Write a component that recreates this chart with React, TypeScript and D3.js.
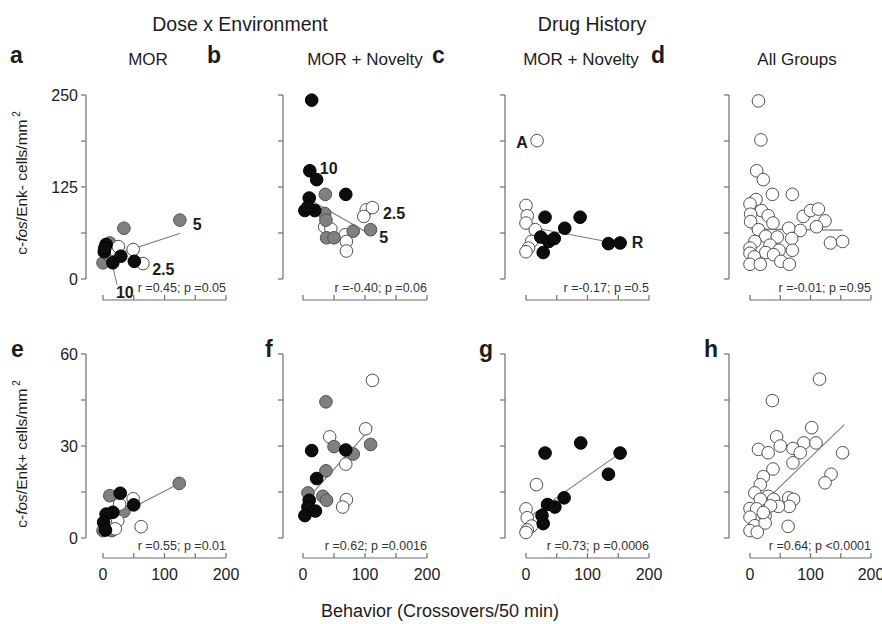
import React from 'react';
import * as d3 from 'd3';

// [x = crossovers, y = cells/mm2, group: 0 open, 1 grey, 2 black]
type Pt = [number, number, number];

const groupTitles = ['Dose x Environment', 'Drug History'];
const subtitles = ['MOR', 'MOR + Novelty', 'MOR + Novelty', 'All Groups'];
const panelLetters = ['a', 'b', 'c', 'd', 'e', 'f', 'g', 'h'];
const statTexts = [
  'r =0.45; p =0.05', 'r =-0.40; p =0.06', 'r =-0.17; p =0.5', 'r =-0.01; p =0.95',
  'r =0.55; p =0.01', 'r =0.62; p =0.0016', 'r =0.73; p =0.0006', 'r =0.64; p <0.0001',
];
const xTicks = [0, 50, 100, 150, 200];
const xTickLabels = [0, 100, 200];
const yTicksTop = [0, 62.5, 125, 187.5, 250];
const yTickLabelsTop = [0, 125, 250];
const yTicksBottom = [0, 15, 30, 45, 60];
const yTickLabelsBottom = [0, 30, 60];

const aPoints: Pt[] = [
  [34, 69, 1], [125, 80, 1], [11, 49, 1], [0, 22, 1], [8, 33, 1],
  [18, 40, 0], [25, 44, 0], [49, 40, 0], [65, 21, 0],
  [5, 47, 2], [2, 37, 2], [3, 42, 2], [16, 22, 2], [29, 31, 2], [51, 24, 2],
];
const bPoints: Pt[] = [
  [35, 71, 0], [45, 68, 0], [68, 60, 0], [70, 51, 0], [70, 38, 0], [102, 94, 0], [112, 97, 0], [98, 85, 0],
  [36, 115, 1], [35, 89, 1], [37, 80, 1], [38, 56, 1], [50, 56, 1], [81, 65, 1], [109, 67, 1],
  [14, 243, 2], [11, 147, 2], [22, 135, 2], [10, 110, 2], [69, 115, 2], [3, 93, 2], [19, 93, 2], [8, 98, 2],
];
const cPoints: Pt[] = [
  [18, 188, 0], [0, 100, 0], [2, 86, 0], [0, 76, 0], [15, 67, 0], [9, 51, 0], [4, 42, 0], [0, 37, 0],
  [31, 84, 2], [88, 84, 2], [63, 69, 2], [24, 57, 2], [37, 51, 2], [46, 55, 2], [28, 36, 2], [134, 48, 2], [153, 49, 2],
];
const dPoints: Pt[] = [
  [14, 242, 0], [18, 189, 0], [11, 147, 0], [22, 135, 0], [37, 115, 0], [70, 115, 0], [10, 108, 0],
  [0, 102, 0], [19, 93, 0], [1, 88, 0], [30, 86, 0], [1, 78, 0], [38, 76, 0], [88, 85, 0], [100, 93, 0],
  [113, 95, 0], [124, 79, 0], [110, 71, 0], [83, 66, 0], [64, 69, 0], [14, 67, 0], [26, 58, 0], [45, 57, 0],
  [69, 55, 0], [8, 51, 0], [33, 46, 0], [0, 42, 0], [48, 39, 0], [70, 39, 0], [26, 36, 0], [0, 35, 0],
  [7, 30, 0], [39, 33, 0], [0, 20, 0], [17, 20, 0], [51, 24, 0], [65, 20, 0], [133, 49, 0], [153, 51, 0],
];
const ePoints: Pt[] = [
  [124, 17.8, 1], [11, 13.8, 1], [34, 8.7, 1], [14, 2.4, 1], [0, 2.4, 1],
  [49, 12.8, 0], [27, 11, 0], [24, 5.6, 0], [62, 3.7, 0], [20, 3, 0],
  [28, 14.6, 2], [50, 10.8, 2], [16, 8.4, 2], [5, 7.8, 2], [1, 5.1, 2], [4, 2.6, 2],
];
const fPoints: Pt[] = [
  [112, 51.4, 0], [101, 35.6, 0], [43, 33, 0], [69, 24.1, 0], [70, 12.5, 0], [64, 10.1, 0],
  [37, 44.4, 1], [109, 30.5, 1], [50, 29.8, 1], [81, 27.4, 1], [37, 21.9, 1], [8, 14.7, 1], [32, 13.6, 1], [38, 12.3, 1],
  [69, 28.7, 2], [14, 28.5, 2], [22, 19.4, 2], [10, 12.3, 2], [8, 10.1, 2], [20, 8.8, 2], [3, 7.3, 2],
];
const gPoints: Pt[] = [
  [17, 17.4, 0], [0, 9.5, 0], [2, 6.6, 0], [9, 3.9, 0], [2, 2.6, 0], [0, 1.8, 0],
  [89, 31, 2], [31, 27.7, 2], [153, 27.7, 2], [134, 20.8, 2], [62, 13.1, 2], [35, 10.9, 2], [47, 10.1, 2], [26, 7.3, 2], [28, 4.7, 2],
];
const hPoints: Pt[] = [
  [115, 51.8, 0], [37, 44.8, 0], [102, 36, 0], [44, 33, 0], [89, 31, 0], [109, 31, 0], [14, 28.9, 0],
  [30, 27.8, 0], [50, 30, 0], [71, 29.2, 0], [83, 27.8, 0], [153, 27.8, 0], [71, 24.5, 0], [38, 22.5, 0],
  [134, 20.8, 0], [22, 20, 0], [124, 18, 0], [17, 17.4, 0], [8, 14.7, 0], [30, 13.6, 0], [39, 12.6, 0],
  [64, 13.1, 0], [72, 12.6, 0], [65, 10.3, 0], [47, 10.3, 0], [17, 12.6, 0], [0, 9.6, 0], [11, 9.5, 0],
  [25, 7.3, 0], [34, 10.5, 0], [0, 6.8, 0], [8, 4, 0], [25, 4.9, 0], [63, 3.8, 0], [0, 2.4, 0], [12, 1.9, 0], [22, 8.3, 0],
];
const panelPoints = [aPoints, bPoints, cPoints, dPoints, ePoints, fPoints, gPoints, hPoints];

// regression lines: y = intercept + slope * x, drawn from fitFrom to fitTo
const fitIntercepts = [28, 113, 71.7, 68, 4.9, 11.2, 6.1, 7.3];
const fitSlopes = [0.27, -0.48, -0.158, -0.01, 0.104, 0.225, 0.141, 0.19];
const fitFrom = [0, 8, 15, 0, 0, 3, 0, 0];
const fitTo = [125, 100, 131, 153, 124, 112, 153, 156];

// dose / group labels: [panel, x, y, text]
const annotations: [number, number, number, string][] = [
  [0, 146, 66, '5'], [0, 80, 5, '2.5'], [0, 21, -26, '10'],
  [1, 27, 142, '10'], [1, 129, 81, '2.5'], [1, 123, 49, '5'],
  [2, -16, 178, 'A'], [2, 172, 42, 'R'],
];
const leaderA = [[23, -8], [16, 16]];

// layout
const W = 882, H = 624;
const colAxisX = [86, 283, 505, 729];
const colX0 = [103, 303, 526, 750];
const colX1 = [226, 427, 649, 871];
const rowTop = [95, 354];
const rowBottom = [279, 538];
const rowXAxis = [300, 558];
const letterX = [10, 207, 432, 651, 11, 265, 479, 704];
const letterY = [63, 357];
const subtitleX = [148, 365, 581, 797];
const groupTitleX = [240, 592];

const FONT = '"Liberation Sans", Arial, Helvetica, sans-serif';
const AXIS = '#6f6f6f';
const INK = '#1c1c1c';
const fills = ['#ffffff', '#808080', '#0d0d0d'];
const strokes = ['#505050', '#505050', '#000000'];

function Panel({ idx }: { idx: number }) {
  const col = idx % 4;
  const row = Math.floor(idx / 4);
  const x = d3.scaleLinear().domain([0, 200]).range([colX0[col], colX1[col]]);
  const y = d3.scaleLinear()
    .domain(row === 0 ? [0, 250] : [0, 60])
    .range([rowBottom[row], rowTop[row]]);
  const yTicks = row === 0 ? yTicksTop : yTicksBottom;
  const yLabels = row === 0 ? yTickLabelsTop : yTickLabelsBottom;
  const ax = colAxisX[col];
  const xa = rowXAxis[row];

  const fit = d3.line<number>()
    .x(v => x(v))
    .y(v => y(fitIntercepts[idx] + fitSlopes[idx] * v));

  return (
    <g>
      {/* y axis */}
      <line x1={ax} x2={ax} y1={y(yTicks[yTicks.length - 1])} y2={y(0)} stroke={AXIS} strokeWidth={1.2} />
      {yTicks.map(t => (
        <line key={t} x1={ax - 5} x2={ax} y1={y(t)} y2={y(t)} stroke={AXIS} strokeWidth={1.2} />
      ))}
      {col === 0 && yLabels.map(t => (
        <text key={t} x={ax - 8} y={y(t)} dy="0.35em" textAnchor="end" fontSize={16} fill={INK}>{t}</text>
      ))}
      {/* x axis */}
      <line x1={x(0)} x2={x(200)} y1={xa} y2={xa} stroke={AXIS} strokeWidth={1.2} />
      {xTicks.map(t => (
        <line key={t} x1={x(t)} x2={x(t)} y1={xa} y2={xa - 5} stroke={AXIS} strokeWidth={1.2} />
      ))}
      {row === 1 && xTickLabels.map(t => (
        <text key={t} x={x(t)} y={xa + 22} textAnchor="middle" fontSize={16} fill={INK}>{t}</text>
      ))}
      <text x={x(200)} y={xa - 8} textAnchor="end" fontSize={12.5} fill="#333">{statTexts[idx]}</text>
      {/* regression */}
      <path d={fit([fitFrom[idx], fitTo[idx]]) || ''} stroke="#7a7a7a" strokeWidth={1.1} fill="none" />
      {idx === 0 && (
        <line x1={x(leaderA[0][0])} y1={y(leaderA[0][1])} x2={x(leaderA[1][0])} y2={y(leaderA[1][1])}
          stroke="#7a7a7a" strokeWidth={1} />
      )}
      {panelPoints[idx].map((p, i) => (
        <circle key={i} cx={x(p[0])} cy={y(p[1])} r={6.3}
          fill={fills[p[2]]} stroke={strokes[p[2]]} strokeWidth={1} />
      ))}
      {annotations.filter(a => a[0] === idx).map((a, i) => (
        <text key={i} x={x(a[1])} y={y(a[2])} fontSize={16} fontWeight="bold" fill={INK}>{a[3]}</text>
      ))}
      <text x={letterX[idx]} y={letterY[row]} fontSize={23} fontWeight="bold" fill={INK}>{panelLetters[idx]}</text>
    </g>
  );
}

function YTitle({ cy, sign }: { cy: number; sign: string }) {
  return (
    <text transform={`translate(27,${cy}) rotate(-90)`} textAnchor="middle" fontSize={15.5} fill={INK}>
      <tspan>c-</tspan>
      <tspan fontStyle="italic">fos</tspan>
      <tspan>{`/Enk${sign}  cells/mm`}</tspan>
      <tspan fontSize={10} dy={-7}>{' 2'}</tspan>
    </text>
  );
}

export default function App() {
  return (
    <svg width={W} height={H} style={{ position: 'absolute', left: 0, top: 0, background: '#fff' }}
      fontFamily={FONT}>
      <rect width={W} height={H} fill="#fff" />
      {groupTitles.map((t, i) => (
        <text key={t} x={groupTitleX[i]} y={31} textAnchor="middle" fontSize={19.5} fill={INK}>{t}</text>
      ))}
      {subtitles.map((t, i) => (
        <text key={i} x={subtitleX[i]} y={65} textAnchor="middle" fontSize={17} fill={INK}>{t}</text>
      ))}
      {panelLetters.map((_, i) => <Panel key={i} idx={i} />)}
      <YTitle cy={183} sign="-" />
      <YTitle cy={454} sign="+" />
      <text x={440} y={617} textAnchor="middle" fontSize={18} fill={INK}>Behavior (Crossovers/50 min)</text>
    </svg>
  );
}
